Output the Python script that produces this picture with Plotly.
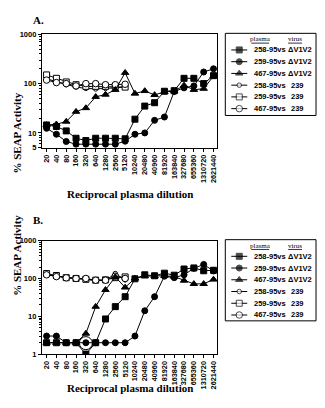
import math
import plotly.graph_objects as go

# ---------------- data ----------------
categories = ["20", "40", "80", "160", "320", "640", "1280", "2560", "5120", "10240",
              "20480", "40960", "81920", "163840", "327680", "655360", "1310720", "2621440"]

# Panel A
A_258_dV = [14.5, 13.5, 11, 7.8, 7.0, 7.8, 7.8, 7.8, 7.6, 19, 35, 41, 70, 72, 128, 128, 100, 145]
A_259_dV = [12.4, 9.4, 6.7, 5.9, 5.9, 5.9, 5.9, 5.9, 6.8, 9.4, 10, 18, 21, 69, 82, 90, 172, 200]
A_467_dV = [14.5, 15, 17, 27, 32, 54, 60, 75, 166, 63, 71, 59, 68, 70, 92, 75, 79, 142]
A_258_239 = [125, 110, 95, 85, 80, 78, 80, 82, 85]
A_259_239 = [150, 128, 108, 95, 88, 88, 88, 88, 85]
A_467_239 = [118, 105, 100, 90, 100, 100, 95, 95, 97]

# Panel B
B_258_dV = [2, 2, 2, 2, 1, 2, 8.5, 18, 33, 98, 125, 118, 138, 122, 178, 190, 160, 165]
B_259_dV = [3, 3, 2, 2, 2, 2, 2, 2, 2, 3, 14, 33, 115, 105, 125, 185, 235, 158]
B_467_dV = [2, 2, 2, 2, 3.5, 18, 50, 110, 58, 100, 115, 115, 118, 112, 88, 72, 72, 94]
B_258_239 = [125, 115, 105, 100, 95, 88, 88, 135, 92]
B_259_239 = [135, 120, 105, 100, 95, 90, 92, 105, 110]
B_467_239 = [125, 112, 104, 100, 100, 90, 90, 115, 100]
B_ring_x = [4]
B_ring_y = [1.95]

legend_plasma = ["258-95vs", "259-95vs", "467-95vs", "258-95vs", "259-95vs", "467-95vs"]
legend_virus = ["\u0394V1V2", "\u0394V1V2", "\u0394V1V2", "239", "239", "239"]

# ---------------- styling ----------------
W, H = 325, 408
SANS = "Liberation Sans"
SERIF = "Liberation Serif"

def px(x, y):
    return x / W, 1 - y / H

styles = [  # symbol, size, filled
    ("square", 6, True),
    ("circle", 6, True),
    ("triangle-up", 6.5, True),
    ("circle", 4.5, False),
    ("square", 6, False),
    ("circle", 6.5, False),
]

fig = go.Figure()

def add_series(y, xa, ya, st):
    sym, size, filled = st
    fig.add_trace(go.Scatter(
        x=list(range(len(y))), y=y, xaxis=xa, yaxis=ya,
        mode="lines+markers",
        line=dict(color="black", width=1),
        marker=dict(symbol=sym, size=size, color="black" if filled else "white",
                    line=dict(color="black", width=1)),
        showlegend=False, hoverinfo="skip"))

# Panel A (open first, filled on top)
for ys, st in [(A_258_239, styles[3]), (A_259_239, styles[4]), (A_467_239, styles[5]),
               (A_467_dV, styles[2]), (A_259_dV, styles[1]), (A_258_dV, styles[0])]:
    add_series(ys, "x", "y", st)

# Panel B
for ys, st in [(B_258_239, styles[3]), (B_259_239, styles[4]), (B_467_239, styles[5]),
               (B_467_dV, styles[2]), (B_259_dV, styles[1]), (B_258_dV, styles[0])]:
    add_series(ys, "x2", "y2", st)

fig.add_trace(go.Scatter(x=B_ring_x, y=B_ring_y, xaxis="x2", yaxis="y2", mode="markers",
                         marker=dict(symbol="circle-open", size=13, color="black", line=dict(width=1)),
                         showlegend=False, hoverinfo="skip"))

# ---------------- legends (drawn on an overlay pixel axis) ----------------
shapes = []
annotations = []
rowsA = [47, 59, 71, 83, 95, 107]
rowsB = [258, 270, 282, 294, 306, 318]
for rows, top, bottom in [(rowsA, 30, 114), (rowsB, 241, 324)]:
    x0, y0 = px(226, top)
    x1, y1 = px(317, bottom)
    shapes.append(dict(type="rect", xref="paper", yref="paper", x0=x0, x1=x1, y0=y1, y1=y0,
                       line=dict(color="black", width=1), fillcolor="white", layer="below"))
    hy = rows[0] - 11
    for label, cx, w in [("plasma", 261, 18), ("virus", 296, 14)]:
        ax, ay = px(cx, hy)
        annotations.append(dict(text=label, x=ax, y=ay, xref="paper", yref="paper", showarrow=False,
                                font=dict(family=SERIF, size=7, color="black"),
                                xanchor="center", yanchor="middle"))
        lx0, ly = px(cx - w / 2, hy + 4)
        lx1, _ = px(cx + w / 2, hy + 4)
        shapes.append(dict(type="line", xref="paper", yref="paper", x0=lx0, x1=lx1, y0=ly, y1=ly,
                           line=dict(color="black", width=0.8)))
    for i, ry in enumerate(rows):
        sym, size, filled = styles[i]
        fig.add_trace(go.Scatter(
            x=[232, 240, 248], y=[ry, ry, ry], xaxis="x3", yaxis="y3", mode="lines+markers",
            line=dict(color="black", width=1),
            marker=dict(symbol=sym, size=[0, size, 0], color="black" if filled else "white",
                        line=dict(color="black", width=[0, 1, 0])),
            showlegend=False, hoverinfo="skip"))
        tx, ty = px(253, ry)
        annotations.append(dict(text=legend_plasma[i], x=tx, y=ty, xref="paper", yref="paper",
                                showarrow=False, xanchor="left", yanchor="middle",
                                font=dict(family=SANS, size=7.5, color="black", weight="bold")))
        vx, _ = px(287 if i < 3 else 290, ry)
        annotations.append(dict(text=legend_virus[i], x=vx, y=ty, xref="paper", yref="paper",
                                showarrow=False, xanchor="left", yanchor="middle",
                                font=dict(family=SANS, size=7.5, color="black", weight="bold")))

# ---------------- titles ----------------
for txt, (cx, cy) in [("A.", (31, 8)), ("B.", (31, 221))]:
    ax, ay = px(cx, cy)
    annotations.append(dict(text=txt, x=ax, y=ay, xref="paper", yref="paper", showarrow=False,
                            font=dict(family=SERIF, size=11, color="black", weight="bold")))
for cy in [88, 300]:
    ax, ay = px(9, cy)
    annotations.append(dict(text="% SEAP Activity", x=ax, y=ay, xref="paper", yref="paper", showarrow=False,
                            textangle=-90, font=dict(family=SERIF, size=11, color="black", weight="bold")))
for cy in [194, 401]:
    ax, ay = px(130, cy)
    annotations.append(dict(text="Reciprocal plasma dilution", x=ax, y=ay, xref="paper", yref="paper",
                            showarrow=False, font=dict(family=SERIF, size=11, color="black", weight="bold")))

# ---------------- axes ----------------
xdom = [42 / W, 218 / W]
xcommon = dict(domain=xdom, range=[-0.48, 17.39], tickmode="array",
               tickvals=list(range(len(categories))), ticktext=categories, tickangle=-90,
               ticks="outside", ticklen=3, tickwidth=1, tickcolor="black",
               showline=True, linecolor="black", linewidth=1, mirror=True,
               showgrid=False, zeroline=False,
               tickfont=dict(family=SANS, size=7.3, color="black", weight="bold"))

def minor_vals(lo, hi):
    v = []
    for d in range(lo, hi):
        for k in range(2, 10):
            v.append(k * 10 ** d)
    return v

ycommon = dict(type="log", ticks="outside", ticklen=3, tickwidth=1, tickcolor="black",
               showline=True, linecolor="black", linewidth=1, mirror=True,
               showgrid=False, zeroline=False, tickmode="array",
               tickfont=dict(family=SANS, size=7.5, color="black", weight="bold"))

yA = dict(ycommon, domain=[1 - 147 / H, 1 - 31 / H], range=[math.log10(5), 3],
          tickvals=[5, 10, 100, 1000], ticktext=["5", "10", "100", "1000"],
          minor=dict(ticks="outside", ticklen=1.5, tickcolor="black", tickmode="array",
                     tickvals=minor_vals(0, 3), showgrid=False), anchor="x")
yB = dict(ycommon, domain=[1 - 358 / H, 1 - 242 / H], range=[0, 3],
          tickvals=[1, 10, 100, 1000], ticktext=["1", "10", "100", "1000"],
          minor=dict(ticks="outside", ticklen=1.5, tickcolor="black", tickmode="array",
                     tickvals=minor_vals(0, 3), showgrid=False), anchor="x2")

fig.update_layout(
    width=W, height=H, margin=dict(l=0, r=0, t=0, b=0),
    paper_bgcolor="white", plot_bgcolor="rgba(0,0,0,0)",
    showlegend=False,
    xaxis=dict(xcommon, anchor="y"),
    yaxis=yA,
    xaxis2=dict(xcommon, anchor="y2"),
    yaxis2=yB,
    xaxis3=dict(domain=[0, 1], range=[0, W], visible=False, anchor="y3", fixedrange=True),
    yaxis3=dict(domain=[0, 1], range=[H, 0], visible=False, anchor="x3", fixedrange=True),
    shapes=shapes, annotations=annotations,
)

fig.write_html("out.html")
